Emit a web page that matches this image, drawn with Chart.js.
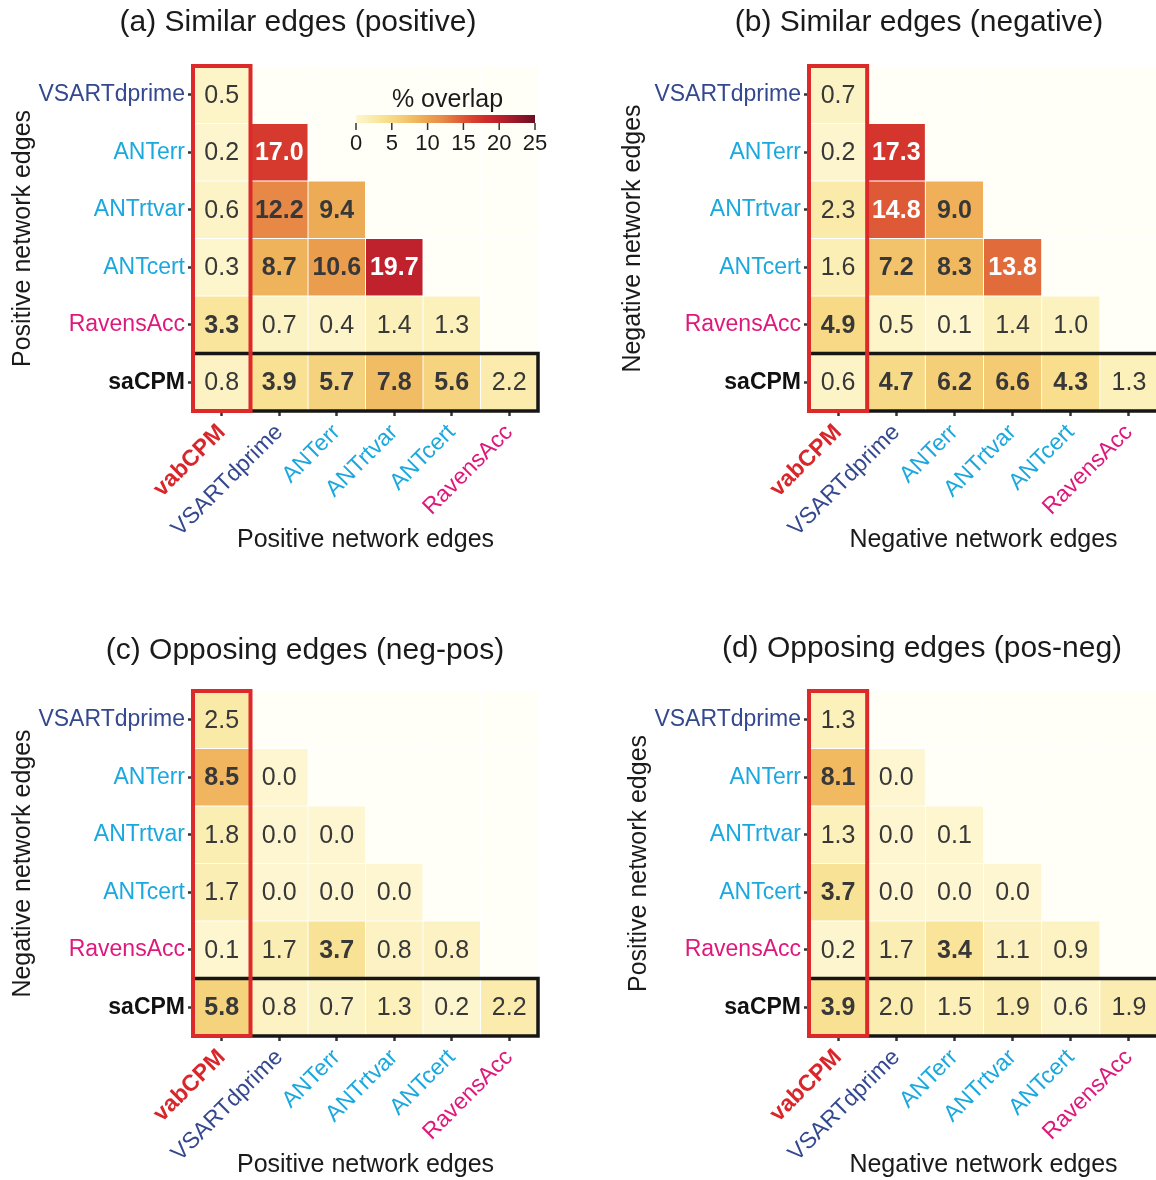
<!DOCTYPE html>
<html>
<head>
<meta charset="utf-8">
<title>Edge overlap heatmaps</title>
<script src="https://cdn.jsdelivr.net/npm/chart.js@4.4.1/dist/chart.umd.min.js"></script>
<style>
  html, body { margin: 0; padding: 0; background: #fff; }
  #wrap { position: relative; width: 1156px; height: 1180px; overflow: hidden; }
  #wrap canvas { position: absolute; }
</style>
</head>
<body>
<div id="wrap">
  <canvas id="panelA" width="600" height="556" style="left:0;top:0"></canvas>
  <canvas id="panelB" width="606" height="556" style="left:616px;top:0"></canvas>
  <canvas id="panelC" width="610" height="556" style="left:0;top:625px"></canvas>
  <canvas id="panelD" width="612" height="556" style="left:616px;top:625px"></canvas>
</div>
<script>
const FONT = "'Liberation Sans', Arial, Helvetica, sans-serif";

// rows top -> bottom, columns left -> right
const rowLabels = ['VSARTdprime', 'ANTerr', 'ANTrtvar', 'ANTcert', 'RavensAcc', 'saCPM'];
const colLabels = ['vabCPM', 'VSARTdprime', 'ANTerr', 'ANTrtvar', 'ANTcert', 'RavensAcc'];

// % overlap, lower triangle only (null = no cell)
const similarPos = [
  [0.5, null, null, null, null, null],
  [0.2, 17.0, null, null, null, null],
  [0.6, 12.2, 9.4, null, null, null],
  [0.3, 8.7, 10.6, 19.7, null, null],
  [3.3, 0.7, 0.4, 1.4, 1.3, null],
  [0.8, 3.9, 5.7, 7.8, 5.6, 2.2]
];
const similarNeg = [
  [0.7, null, null, null, null, null],
  [0.2, 17.3, null, null, null, null],
  [2.3, 14.8, 9.0, null, null, null],
  [1.6, 7.2, 8.3, 13.8, null, null],
  [4.9, 0.5, 0.1, 1.4, 1.0, null],
  [0.6, 4.7, 6.2, 6.6, 4.3, 1.3]
];
const opposingNegPos = [
  [2.5, null, null, null, null, null],
  [8.5, 0.0, null, null, null, null],
  [1.8, 0.0, 0.0, null, null, null],
  [1.7, 0.0, 0.0, 0.0, null, null],
  [0.1, 1.7, 3.7, 0.8, 0.8, null],
  [5.8, 0.8, 0.7, 1.3, 0.2, 2.2]
];
const opposingPosNeg = [
  [1.3, null, null, null, null, null],
  [8.1, 0.0, null, null, null, null],
  [1.3, 0.0, 0.1, null, null, null],
  [3.7, 0.0, 0.0, 0.0, null, null],
  [0.2, 1.7, 3.4, 1.1, 0.9, null],
  [3.9, 2.0, 1.5, 1.9, 0.6, 1.9]
];

const legendTicks = [0, 5, 10, 15, 20, 25];

const LABEL_COLORS = {
  vabCPM: '#d9262b',
  VSARTdprime: '#34488f',
  ANTerr: '#1ba8de',
  ANTrtvar: '#1ba8de',
  ANTcert: '#1ba8de',
  RavensAcc: '#df187c',
  saCPM: '#111111'
};
const BOLD_LABELS = ['vabCPM', 'saCPM'];

// yellow -> orange -> red -> dark red, 0..25 %
const FILL_STOPS = [
  [0, '#fdf6d0'], [2, '#fbedb0'], [4, '#f8e090'], [6, '#f5d07a'],
  [8, '#f1bb62'], [10, '#eca450'], [12, '#e88c48'], [14, '#e1673b'],
  [16, '#da4630'], [18, '#d12c2a'], [20, '#bd202d'], [22.5, '#95182a'],
  [25, '#6a1022']
];
const EMPTY_FILL = '#fffef7';

function hexRgb(h) {
  return [1, 3, 5].map(i => parseInt(h.slice(i, i + 2), 16));
}

function fillColor(v) {
  if (v <= FILL_STOPS[0][0]) return FILL_STOPS[0][1];
  for (let i = 1; i < FILL_STOPS.length; i++) {
    const [v1, c1] = FILL_STOPS[i];
    if (v <= v1) {
      const [v0, c0] = FILL_STOPS[i - 1];
      const t = (v - v0) / (v1 - v0);
      const a = hexRgb(c0), b = hexRgb(c1);
      const m = a.map((x, k) => Math.round(x + (b[k] - x) * t));
      return `rgb(${m[0]},${m[1]},${m[2]})`;
    }
  }
  return FILL_STOPS[FILL_STOPS.length - 1][1];
}

function labelFont(name, size) {
  return { family: FONT, size, weight: BOLD_LABELS.includes(name) ? 'bold' : 'normal' };
}

// colour key, only on the first panel
const colourKey = {
  id: 'colourKey',
  afterDraw(chart) {
    const { ctx, chartArea } = chart;
    const x0 = chartArea.left + 163, x1 = chartArea.left + 342;
    const y0 = chartArea.top + 49, y1 = chartArea.top + 57;
    ctx.save();
    ctx.fillStyle = '#1a1a1a';
    ctx.font = `25px ${FONT}`;
    ctx.textAlign = 'center';
    ctx.textBaseline = 'middle';
    ctx.fillText('% overlap', (x0 + x1) / 2 + 2, chartArea.top + 34);

    const grad = ctx.createLinearGradient(x0, 0, x1, 0);
    FILL_STOPS.forEach(([v, c]) => grad.addColorStop(v / 25, c));
    ctx.fillStyle = grad;
    ctx.fillRect(x0, y0, x1 - x0, y1 - y0);

    ctx.strokeStyle = '#333';
    ctx.lineWidth = 1.5;
    ctx.font = `22px ${FONT}`;
    ctx.fillStyle = '#1a1a1a';
    legendTicks.forEach(t => {
      const x = x0 + (x1 - x0) * t / 25;
      ctx.beginPath();
      ctx.moveTo(x, y1);
      ctx.lineTo(x, y1 + 7);
      ctx.stroke();
      ctx.fillText(String(t), x, y1 + 21);
    });
    ctx.restore();
  }
};

function makePanel(id, title, values, yTitle, xTitle, opts) {
  // panel heading, centred over the whole panel rather than the plot area
  const heading = {
    id: 'heading',
    afterDraw(chart) {
      const { ctx } = chart;
      ctx.save();
      ctx.font = `30px ${FONT}`;
      ctx.fillStyle = '#1a1a1a';
      ctx.textAlign = 'center';
      ctx.textBaseline = 'middle';
      ctx.fillText(title, opts.titleX, opts.titleY);
      ctx.restore();
    }
  };

  const cellText = {
    id: 'cellText',
    afterDatasetsDraw(chart) {
      const { ctx } = chart;
      ctx.save();
      ctx.textAlign = 'center';
      ctx.textBaseline = 'middle';
      chart.data.datasets.forEach((ds, ci) => {
        chart.getDatasetMeta(ci).data.forEach((bar, ri) => {
          const v = values[ri][ci];
          if (v == null) return;
          const p = bar.getCenterPoint();
          ctx.font = `${v >= 3 ? 'bold ' : ''}25px ${FONT}`;
          ctx.fillStyle = v >= 13 ? '#ffffff' : '#383838';
          ctx.fillText(v.toFixed(1), p.x, p.y + 1);
        });
      });
      ctx.restore();
    }
  };

  // red frame on the vabCPM column, black frame on the saCPM row
  const frames = {
    id: 'frames',
    afterDatasetsDraw(chart) {
      const { ctx, chartArea } = chart;
      const xs = chart.scales.x, ys = chart.scales.y;
      const half = (ys.getPixelForValue(1) - ys.getPixelForValue(0)) / 2;
      const rowY = ys.getPixelForValue(rowLabels.length - 1);
      ctx.save();
      ctx.lineWidth = 3.5;
      ctx.strokeStyle = '#161616';
      ctx.strokeRect(chartArea.left, rowY - half, chartArea.right - chartArea.left, half * 2);
      ctx.lineWidth = 4;
      ctx.strokeStyle = '#dc2a2b';
      const cx0 = xs.getPixelForValue(0), cx1 = xs.getPixelForValue(1);
      ctx.strokeRect(cx0, chartArea.top, cx1 - cx0, chartArea.bottom - chartArea.top);
      ctx.restore();
    }
  };

  const plugins = [cellText, frames, heading];
  if (opts.legend) plugins.push(colourKey);

  return new Chart(document.getElementById(id), {
    type: 'bar',
    data: {
      labels: rowLabels,
      datasets: colLabels.map((name, ci) => ({
        label: name,
        data: rowLabels.map(() => [ci, ci + 1]),
        backgroundColor: c => {
          const v = values[c.dataIndex][ci];
          return v == null ? EMPTY_FILL : fillColor(v);
        },
        borderColor: '#ffffff',
        borderWidth: 0.8,
        borderSkipped: false,
        grouped: false,
        barPercentage: 1,
        categoryPercentage: 1
      }))
    },
    options: {
      indexAxis: 'y',
      responsive: false,
      animation: false,
      events: [],
      layout: { padding: { left: 0, right: opts.rightPad, top: 66, bottom: 0 } },
      plugins: {
        legend: { display: false },
        tooltip: { enabled: false },
        title: { display: false }
      },
      scales: {
        x: {
          type: 'linear',
          min: 0,
          max: colLabels.length,
          afterBuildTicks: axis => {
            axis.ticks = colLabels.map((_, i) => ({ value: i + 0.5 }));
          },
          afterFit: axis => { axis.height = 145; },
          grid: {
            display: true, drawOnChartArea: false, drawTicks: true,
            tickLength: 5, tickWidth: 2.5, tickColor: '#333333'
          },
          border: { display: false },
          ticks: {
            autoSkip: false,
            minRotation: 45,
            maxRotation: 45,
            padding: 3,
            callback: (v, i) => colLabels[i],
            color: c => LABEL_COLORS[colLabels[c.index]],
            font: c => labelFont(colLabels[c.index], 23)
          },
          title: {
            display: true,
            text: xTitle,
            color: '#1a1a1a',
            font: { family: FONT, size: 25 },
            padding: { top: 0, bottom: 1 }
          }
        },
        y: {
          type: 'category',
          offset: true,
          afterFit: axis => { axis.width = 193; },
          grid: {
            display: true, offset: false, drawOnChartArea: false, drawTicks: true,
            tickLength: 5, tickWidth: 2.5, tickColor: '#333333'
          },
          border: { display: false },
          ticks: {
            padding: 3,
            color: c => LABEL_COLORS[rowLabels[c.index]],
            font: c => labelFont(rowLabels[c.index], 23)
          },
          title: {
            display: true,
            text: yTitle,
            color: '#1a1a1a',
            font: { family: FONT, size: 25 },
            padding: { top: opts.yTitlePad, bottom: 0 }
          }
        }
      }
    },
    plugins
  });
}

makePanel('panelA', '(a) Similar edges (positive)', similarPos,
  'Positive network edges', 'Positive network edges',
  { rightPad: 62, yTitlePad: 8, titleX: 298, titleY: 23, legend: true });
makePanel('panelB', '(b) Similar edges (negative)', similarNeg,
  'Negative network edges', 'Negative network edges',
  { rightPad: 64, yTitlePad: 2, titleX: 303, titleY: 23 });
makePanel('panelC', '(c) Opposing edges (neg-pos)', opposingNegPos,
  'Negative network edges', 'Positive network edges',
  { rightPad: 72, yTitlePad: 8, titleX: 305, titleY: 26 });
makePanel('panelD', '(d) Opposing edges (pos-neg)', opposingPosNeg,
  'Positive network edges', 'Negative network edges',
  { rightPad: 70, yTitlePad: 8, titleX: 306, titleY: 24 });
</script>
</body>
</html>
